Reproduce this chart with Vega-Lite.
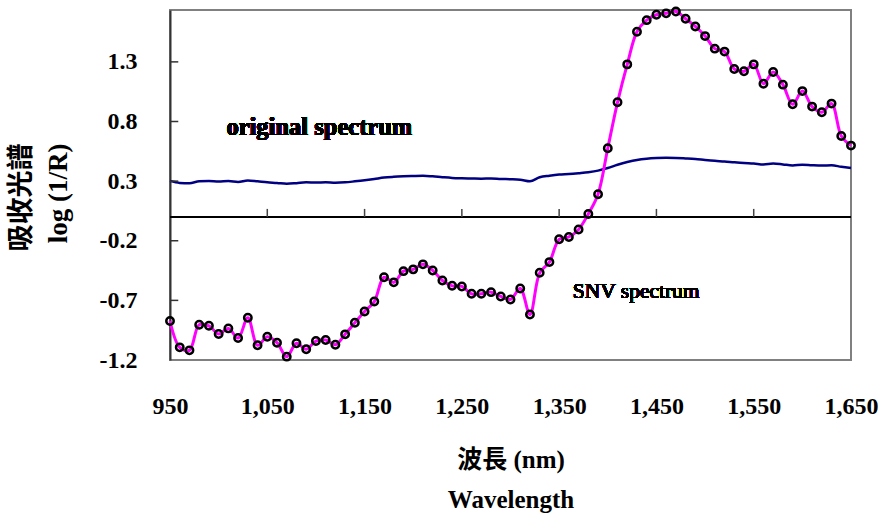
{
  "$schema": "https://vega.github.io/schema/vega-lite/v6.json",
  "width": 681,
  "height": 350,
  "autosize": {"type": "none"},
  "padding": {"left": 170, "top": 10, "right": 30, "bottom": 154},
  "background": "white",
  "config": {"view": {"stroke": "#808080", "strokeWidth": 2}, "font": "Liberation Serif"},
  "data": {"values": [
    {"wl": 950, "original": 0.302, "snv": -0.873},
    {"wl": 960, "original": 0.285, "snv": -1.094},
    {"wl": 970, "original": 0.282, "snv": -1.119},
    {"wl": 980, "original": 0.298, "snv": -0.904},
    {"wl": 990, "original": 0.3, "snv": -0.913},
    {"wl": 1000, "original": 0.296, "snv": -0.982},
    {"wl": 1010, "original": 0.3, "snv": -0.935},
    {"wl": 1020, "original": 0.292, "snv": -1.016},
    {"wl": 1030, "original": 0.305, "snv": -0.846},
    {"wl": 1040, "original": 0.298, "snv": -1.077},
    {"wl": 1050, "original": 0.29, "snv": -1.005},
    {"wl": 1060, "original": 0.285, "snv": -1.055},
    {"wl": 1070, "original": 0.278, "snv": -1.172},
    {"wl": 1080, "original": 0.283, "snv": -1.06},
    {"wl": 1090, "original": 0.29, "snv": -1.11},
    {"wl": 1100, "original": 0.288, "snv": -1.041},
    {"wl": 1110, "original": 0.29, "snv": -1.032},
    {"wl": 1120, "original": 0.287, "snv": -1.072},
    {"wl": 1130, "original": 0.29, "snv": -0.985},
    {"wl": 1140, "original": 0.298, "snv": -0.888},
    {"wl": 1150, "original": 0.307, "snv": -0.793},
    {"wl": 1160, "original": 0.318, "snv": -0.71},
    {"wl": 1170, "original": 0.33, "snv": -0.506},
    {"wl": 1180, "original": 0.336, "snv": -0.549},
    {"wl": 1190, "original": 0.34, "snv": -0.455},
    {"wl": 1200, "original": 0.343, "snv": -0.44},
    {"wl": 1210, "original": 0.345, "snv": -0.398},
    {"wl": 1220, "original": 0.34, "snv": -0.449},
    {"wl": 1230, "original": 0.333, "snv": -0.533},
    {"wl": 1240, "original": 0.327, "snv": -0.578},
    {"wl": 1250, "original": 0.324, "snv": -0.583},
    {"wl": 1260, "original": 0.322, "snv": -0.645},
    {"wl": 1270, "original": 0.32, "snv": -0.645},
    {"wl": 1280, "original": 0.322, "snv": -0.631},
    {"wl": 1290, "original": 0.318, "snv": -0.667},
    {"wl": 1300, "original": 0.316, "snv": -0.692},
    {"wl": 1310, "original": 0.312, "snv": -0.6},
    {"wl": 1320, "original": 0.298, "snv": -0.818},
    {"wl": 1330, "original": 0.332, "snv": -0.469},
    {"wl": 1340, "original": 0.345, "snv": -0.379},
    {"wl": 1350, "original": 0.355, "snv": -0.188},
    {"wl": 1360, "original": 0.36, "snv": -0.168},
    {"wl": 1370, "original": 0.367, "snv": -0.105},
    {"wl": 1380, "original": 0.375, "snv": 0.025},
    {"wl": 1390, "original": 0.388, "snv": 0.19},
    {"wl": 1400, "original": 0.41, "snv": 0.576},
    {"wl": 1410, "original": 0.437, "snv": 0.961},
    {"wl": 1420, "original": 0.46, "snv": 1.279},
    {"wl": 1430, "original": 0.478, "snv": 1.553},
    {"wl": 1440, "original": 0.488, "snv": 1.65},
    {"wl": 1450, "original": 0.493, "snv": 1.695},
    {"wl": 1460, "original": 0.495, "snv": 1.707},
    {"wl": 1470, "original": 0.494, "snv": 1.723},
    {"wl": 1480, "original": 0.49, "snv": 1.662},
    {"wl": 1490, "original": 0.485, "snv": 1.597},
    {"wl": 1500, "original": 0.477, "snv": 1.516},
    {"wl": 1510, "original": 0.47, "snv": 1.411},
    {"wl": 1520, "original": 0.465, "snv": 1.386},
    {"wl": 1530, "original": 0.458, "snv": 1.24},
    {"wl": 1540, "original": 0.452, "snv": 1.221},
    {"wl": 1550, "original": 0.448, "snv": 1.279},
    {"wl": 1560, "original": 0.44, "snv": 1.117},
    {"wl": 1570, "original": 0.447, "snv": 1.215},
    {"wl": 1580, "original": 0.44, "snv": 1.109},
    {"wl": 1590, "original": 0.432, "snv": 0.944},
    {"wl": 1600, "original": 0.438, "snv": 1.055},
    {"wl": 1610, "original": 0.433, "snv": 0.925},
    {"wl": 1620, "original": 0.43, "snv": 0.877},
    {"wl": 1630, "original": 0.433, "snv": 0.95},
    {"wl": 1640, "original": 0.42, "snv": 0.679},
    {"wl": 1650, "original": 0.41, "snv": 0.598}
  ]},
  "layer": [
    {
      "mark": {"type": "line", "color": "#000080", "strokeWidth": 2.5, "interpolate": "monotone"},
      "encoding": {
        "x": {"field": "wl", "type": "quantitative",
          "scale": {"domain": [950, 1650], "nice": false, "zero": false},
          "axis": {
            "values": [950, 1050, 1150, 1250, 1350, 1450, 1550, 1650],
            "format": ",d",
            "labelFlush": false, "labelOverlap": false,
            "labelFont": "Liberation Serif", "labelFontWeight": "bold", "labelFontSize": 24, "labelColor": "black",
            "ticks": false, "domain": false, "grid": false,
            "labelPadding": 34,
            "title": ["波長 (nm)", "Wavelength"],
            "titleFont": "Liberation Serif, Noto Sans CJK TC",
            "titleFontSize": 25, "titleFontWeight": "bold", "titleColor": "black",
            "titleLineHeight": 40, "titlePadding": 29
          }},
        "y": {"field": "original", "type": "quantitative",
          "scale": {"domain": [-1.2, 1.735], "nice": false, "zero": false},
          "axis": {
            "values": [-1.2, -0.7, -0.2, 0.3, 0.8, 1.3],
            "labelExpr": "(datum.value < 0 ? '-' : '') + format(abs(datum.value), '.1f')",
            "labelFlush": false, "labelOverlap": false,
            "labelFont": "Liberation Serif", "labelFontWeight": "bold", "labelFontSize": 24, "labelColor": "black",
            "ticks": false,
            "domainColor": "#333333", "domainWidth": 2, "grid": false,
            "labelPadding": 33,
            "title": ["吸收光譜", "log (1/R)"],
            "titleFont": "Liberation Serif, Noto Sans CJK TC",
            "titleFontSize": 27, "titleFontWeight": "bold", "titleColor": "black",
            "titleLineHeight": 37, "titlePadding": 27,
            "titleAlign": "right", "titleY": 133
          }}
      }
    },
    {
      "mark": {"type": "rule", "color": "black", "strokeWidth": 1.5},
      "encoding": {"y": {"datum": 0}}
    },
    {
      "data": {"values": [{"t": 1050}, {"t": 1150}, {"t": 1250}, {"t": 1350}, {"t": 1450}, {"t": 1550}]},
      "mark": {"type": "rule", "color": "#444444", "strokeWidth": 1.5},
      "encoding": {
        "x": {"field": "t", "type": "quantitative"},
        "y": {"datum": 0},
        "y2": {"datum": 0.067}
      }
    },
    {
      "data": {"values": [{"v": -0.7}, {"v": -0.2}, {"v": 0.3}, {"v": 0.8}, {"v": 1.3}]},
      "mark": {"type": "rule", "color": "#333333", "strokeWidth": 1.5},
      "encoding": {
        "y": {"field": "v", "type": "quantitative"},
        "x": {"datum": 950},
        "x2": {"datum": 958.5}
      }
    },
    {
      "mark": {"type": "line", "color": "#FF00FF", "strokeWidth": 3, "interpolate": "catmull-rom"},
      "encoding": {
        "x": {"field": "wl", "type": "quantitative"},
        "y": {"field": "snv", "type": "quantitative"}
      }
    },
    {
      "mark": {"type": "point", "filled": false, "color": "black", "strokeWidth": 2.5, "size": 55, "opacity": 1},
      "encoding": {
        "x": {"field": "wl", "type": "quantitative"},
        "y": {"field": "snv", "type": "quantitative"}
      }
    },
    {
      "mark": {"type": "text", "align": "left", "baseline": "middle", "font": "Liberation Serif", "fontWeight": "bold", "fontSize": 24.5, "color": "black"},
      "encoding": {
        "x": {"datum": 1008},
        "y": {"datum": 0.745},
        "text": {"value": "original spectrum"}
      }
    },
    {
      "mark": {"type": "text", "align": "left", "baseline": "middle", "font": "Liberation Serif", "fontWeight": "normal", "fontSize": 21.5, "color": "black"},
      "encoding": {
        "x": {"datum": 1364},
        "y": {"datum": -0.63},
        "text": {"value": "SNV spectrum"}
      }
    }
  ]
}
